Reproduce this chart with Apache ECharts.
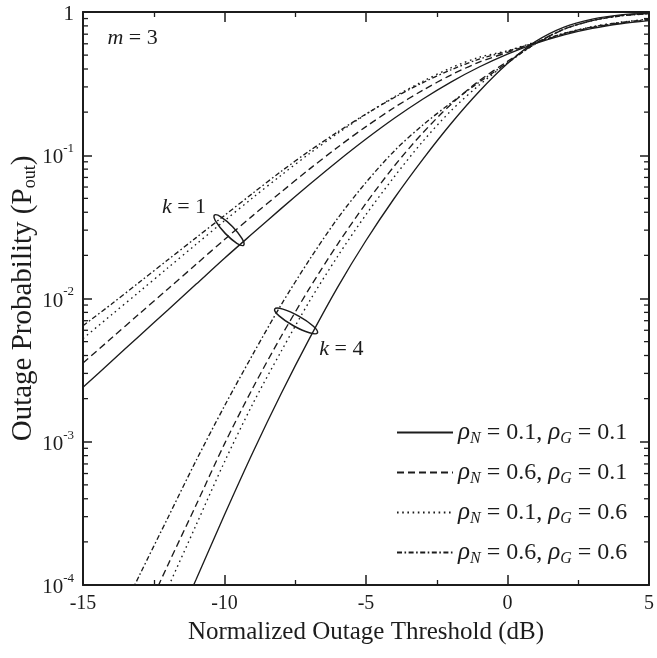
<!DOCTYPE html>
<html><head><meta charset="utf-8">
<script src="https://cdn.jsdelivr.net/npm/echarts@6/dist/echarts.min.js"></script>
<style>html,body{margin:0;padding:0;background:#fff;}#c{width:657px;height:658px;}</style>
</head><body><div id="c"></div>
<script>
// ---- data ----
const xValues = [-15,-14,-13,-12,-11,-10,-9,-8,-7,-6,-5,-4,-3,-2,-1,0,1,2,3,4,5];
// k = 1
const k1_N01_G01 = [0.00240,0.00363,0.00550,0.00832,0.0126,0.0191,0.0285,0.0424,0.0624,0.0908,0.1297,0.1811,0.2460,0.3243,0.4130,0.5082,0.6039,0.6934,0.7691,0.8279,0.8710];
const k1_N06_G01 = [0.00355,0.00527,0.00785,0.01167,0.01734,0.0258,0.0379,0.0553,0.0800,0.1138,0.1585,0.2153,0.2838,0.3631,0.4467,0.5224,0.6109,0.7031,0.7798,0.8395,0.8810];
const k1_N01_G06 = [0.00525,0.00767,0.01119,0.01637,0.02393,0.0349,0.0505,0.0724,0.1026,0.1422,0.1932,0.2559,0.3273,0.4074,0.4831,0.5370,0.6180,0.7112,0.7907,0.8492,0.8913];
const k1_N06_G06 = [0.00646,0.00912,0.01303,0.01862,0.0266,0.0380,0.0543,0.0771,0.1072,0.1455,0.1941,0.2529,0.3206,0.3945,0.4688,0.5321,0.6138,0.7079,0.7870,0.8453,0.8872];
// k = 4
const k4_N01_G01 = [null,null,null,3.98e-5,1.096e-4,3.09e-4,8.41e-4,2.163e-3,5.25e-3,0.01202,0.0254,0.0501,0.0933,0.166,0.2786,0.4365,0.6237,0.7852,0.8913,0.955,0.9817];
const k4_N06_G01 = [null,null,5.13e-5,1.38e-4,3.63e-4,9.66e-4,2.371e-3,5.43e-3,0.01175,0.0240,0.0462,0.0841,0.1429,0.2265,0.3311,0.4519,0.6026,0.7586,0.871,0.944,0.977];
const k4_N01_G06 = [null,null,3.39e-5,9.55e-5,2.63e-4,7.24e-4,1.841e-3,4.27e-3,9.55e-3,0.01972,0.0385,0.0708,0.1245,0.2042,0.309,0.4416,0.6026,0.7586,0.871,0.944,0.9727];
const k4_N06_G06 = [null,4.57e-5,1.175e-4,2.95e-4,7.41e-4,1.778e-3,4.07e-3,9.02e-3,0.01862,0.0363,0.0646,0.1072,0.1622,0.2317,0.3236,0.4416,0.6026,0.7586,0.871,0.9376,0.9727];

const legendKeys = ['s11','s61','s16','s66'];
const legendRho = {s11:['0.1','0.1'], s61:['0.6','0.1'], s16:['0.1','0.6'], s66:['0.6','0.6']};
const yMinorMantissa = [2,3,4,5,6,7,8,9];
const yDecades = [1e-4,1e-3,1e-2,1e-1];
const xTitle = 'Normalized Outage Threshold (dB)';
const yTitleMain = 'Outage Probability (P';
const yTitleSub = 'out';

// ---- styling ----
const INK = '#1c1c1c';
const SERIF = 'Liberation Serif';
const dashStyles = {s11:'solid', s61:[7,4], s16:[1.6,3.6], s66:[5,2.5,1.6,2.5]};

function pairs(arr){ return xValues.map((x,i)=>[x, arr[i]]).filter(p=>p[1]!=null); }
function lineSeries(key, arr){
  return {type:'line', name:key, data:pairs(arr), showSymbol:false, symbol:'none', smooth:0.3,
    clip:true, lineStyle:{color:INK, width:1.35, type:dashStyles[key]}, itemStyle:{color:INK}, z:3};
}
const yMinor = [];
yDecades.forEach(d=>yMinorMantissa.forEach(m=>yMinor.push(+(m*d).toPrecision(3))));

const chart = echarts.init(document.getElementById('c'), null, {renderer:'canvas'});
const axisLineStyle = {color:INK, width:2};
const option = {
  animation:false,
  backgroundColor:'#fff',
  grid:{left:83, right:2, top:12, bottom:73, containLabel:false},
  legend:{
    orient:'vertical', left:391, top:415, itemWidth:56, itemHeight:14, itemGap:13.5,
    data: legendKeys, itemStyle:{opacity:0},
    formatter: n => `{r|ρ}{s|N}{t| = ${legendRho[n][0]}, }{r|ρ}{s|G}{t| = ${legendRho[n][1]}}`,
    textStyle:{fontFamily:SERIF, fontSize:24, color:INK,
      rich:{
        r:{fontFamily:SERIF, fontStyle:'italic', fontSize:25, color:INK, lineHeight:28, verticalAlign:'middle'},
        s:{fontFamily:SERIF, fontStyle:'italic', fontSize:16, color:INK, lineHeight:15, verticalAlign:'bottom'},
        t:{fontFamily:SERIF, fontSize:24, color:INK, lineHeight:28, verticalAlign:'middle'}
      }},
    selectedMode:false
  },
  xAxis:[{
    type:'value', min:-15, max:5, interval:5, position:'bottom',
    axisLine:{show:true, onZero:false, lineStyle:axisLineStyle},
    axisTick:{show:true, inside:true, length:10, lineStyle:{color:INK, width:1.5}},
    minorTick:{show:true, splitNumber:2, length:5, lineStyle:{color:INK, width:1.3}},
    splitLine:{show:false},
    axisLabel:{margin:9, fontFamily:SERIF, fontSize:20, color:INK, formatter:v=>String(v)}
  },{
    type:'value', min:-15, max:5, interval:5, position:'top',
    axisLine:{show:true, onZero:false, lineStyle:axisLineStyle},
    axisTick:{show:true, inside:true, length:10, lineStyle:{color:INK, width:1.5}},
    minorTick:{show:true, splitNumber:2, length:5, lineStyle:{color:INK, width:1.3}},
    splitLine:{show:false}, axisLabel:{show:false}
  }],
  yAxis:[{
    type:'log', logBase:10, min:1e-4, max:1, position:'left',
    axisLine:{show:true, onZero:false, lineStyle:axisLineStyle},
    axisTick:{show:true, inside:true, length:9, lineStyle:{color:INK, width:1.5}},
    splitLine:{show:false},
    axisLabel:{margin:9, color:INK, fontFamily:SERIF,
      formatter:v=>{ const e=Math.round(Math.log10(v)); return e===0?'{b|1}':`{b|10}{p|${e}}`; },
      rich:{ b:{fontFamily:SERIF, fontSize:21, color:INK, lineHeight:26, verticalAlign:'bottom'},
             p:{fontFamily:SERIF, fontSize:13, color:INK, lineHeight:13, verticalAlign:'top'} }}
  },{
    type:'log', logBase:10, min:1e-4, max:1, position:'right',
    axisLine:{show:true, onZero:false, lineStyle:axisLineStyle},
    axisTick:{show:true, inside:true, length:9, lineStyle:{color:INK, width:1.5}},
    splitLine:{show:false}, axisLabel:{show:false}
  }],
  series:[
    lineSeries('s11', k1_N01_G01), lineSeries('s61', k1_N06_G01), lineSeries('s16', k1_N01_G06), lineSeries('s66', k1_N06_G06),
    lineSeries('s11', k4_N01_G01), lineSeries('s61', k4_N06_G01), lineSeries('s16', k4_N01_G06), lineSeries('s66', k4_N06_G06),
    {type:'custom', name:'yminor', data:yMinor.map(v=>[-15,v]), encode:{x:0,y:1}, clip:false, silent:true, z:5,
     renderItem:(params, api)=>{
       const y = api.coord([-15, api.value(1)])[1];
       const cs = params.coordSys;
       return {type:'group', children:[
         {type:'line', shape:{x1:cs.x, y1:y, x2:cs.x+5, y2:y}, style:{stroke:INK, lineWidth:1.3}},
         {type:'line', shape:{x1:cs.x+cs.width-5, y1:y, x2:cs.x+cs.width, y2:y}, style:{stroke:INK, lineWidth:1.3}}
       ]};
     }}
  ]
};
chart.setOption(option);

// ---- annotations & axis titles placed through the axes' scales ----
const P = (x,p)=>chart.convertToPixel({xAxisIndex:0, yAxisIndex:0},[x,p]);
const annot = [
  {kind:'ellipse', at:[-9.84, 0.030], rx:21, ry:5, rot:-0.80},
  {kind:'ellipse', at:[-7.47, 0.00697], rx:24.5, ry:5.5, rot:-0.51},
  {kind:'text', at:[-11.43, 0.0435], sym:'k', val:'1'},
  {kind:'text', at:[-5.87, 0.00444], sym:'k', val:'4'},
  {kind:'text', at:[-13.25, 0.658], sym:'m', val:'3'}
];
const graphic = annot.map(a=>{
  const p = P(a.at[0], a.at[1]);
  if(a.kind==='ellipse'){
    return {type:'ellipse', x:p[0], y:p[1], rotation:a.rot, shape:{cx:0, cy:0, rx:a.rx, ry:a.ry},
      style:{fill:'none', stroke:INK, lineWidth:1.5}, z:10};
  }
  return {type:'text', x:p[0], y:p[1], z:10,
    style:{text:`{i|${a.sym}}{t| = ${a.val}}`, align:'center', verticalAlign:'middle',
      rich:{i:{fontFamily:SERIF, fontStyle:'italic', fontSize:22, fill:INK},
            t:{fontFamily:SERIF, fontSize:22, fill:INK}}}};
});
const mid = P(-5, 0.01);
const bottomLeft = P(-15, 1e-4);
graphic.push({type:'text', x:mid[0], y:bottomLeft[1]+47, z:10,
  style:{text:xTitle, align:'center', verticalAlign:'middle', fontFamily:SERIF, fontSize:25, fill:INK}});
graphic.push({type:'text', x:bottomLeft[0]-60, y:mid[1], rotation:Math.PI/2, z:10,
  style:{text:`{m|${yTitleMain}}{s|${yTitleSub}}{m|)}`, align:'center', verticalAlign:'middle',
    rich:{m:{fontFamily:SERIF, fontSize:29, fill:INK, lineHeight:32, verticalAlign:'middle'},
          s:{fontFamily:SERIF, fontSize:18, fill:INK, lineHeight:18, verticalAlign:'bottom'}}}});
chart.setOption({graphic});
</script>
</body></html>
